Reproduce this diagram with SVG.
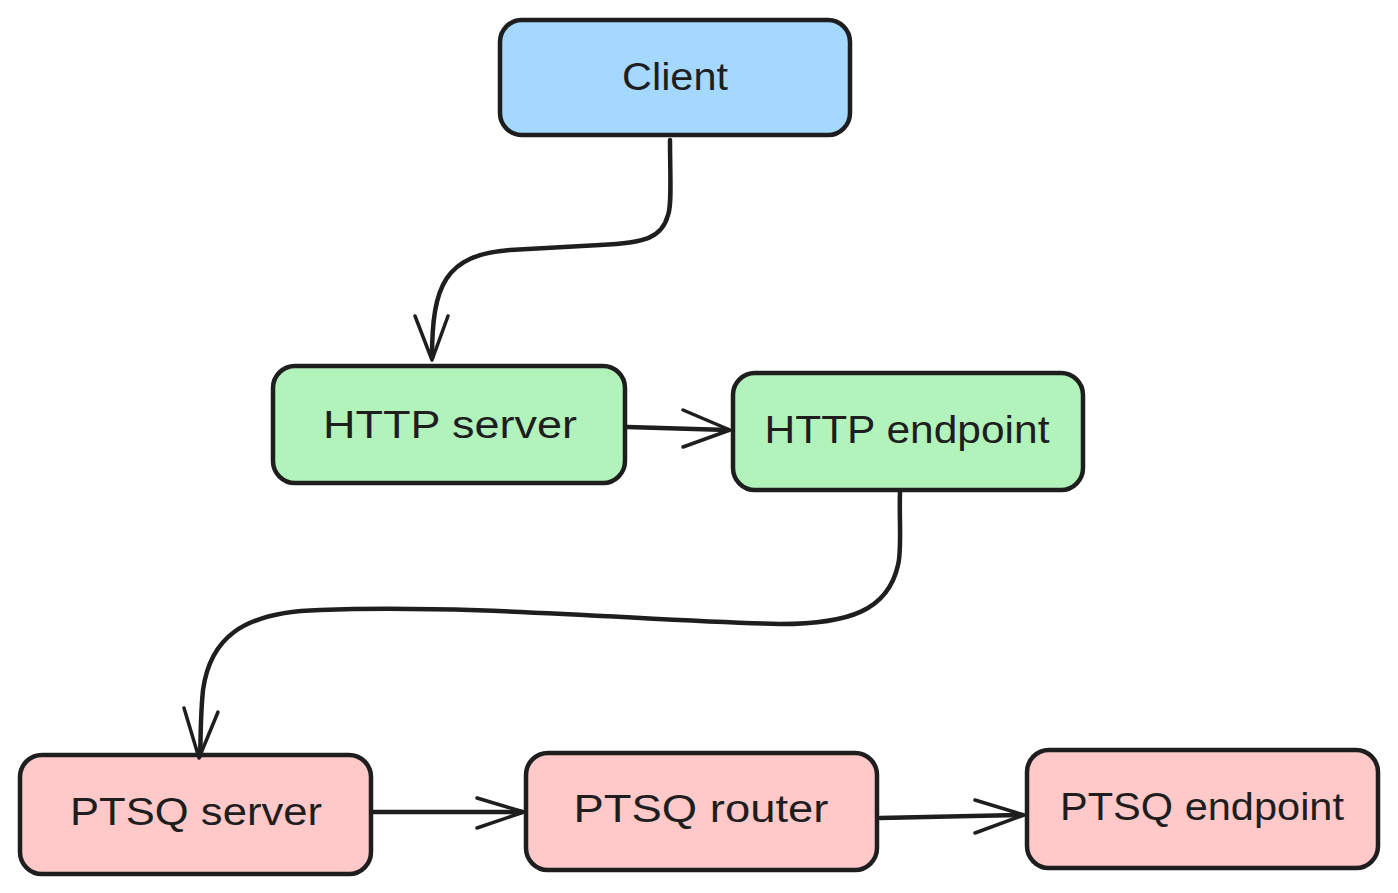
<svg xmlns="http://www.w3.org/2000/svg" width="1398" height="893" viewBox="0 0 1398 893">
<defs>
<style>
.box{stroke:#1e1e1e;stroke-width:4.5;stroke-linejoin:round}
.blue{fill:#a5d8ff}
.green{fill:#b2f2bb}
.red{fill:#ffc9c9}
.lbl{font-family:"Liberation Sans",Arial,sans-serif;font-size:38px;fill:#1e1e1e;text-anchor:middle}
.edge{fill:none;stroke:#1e1e1e;stroke-width:4.5;stroke-linecap:round;stroke-linejoin:round}
.head{fill:none;stroke:#1e1e1e;stroke-width:3.5;stroke-linecap:round;stroke-linejoin:round}
</style>
</defs>
<rect width="1398" height="893" fill="#ffffff"/>
<g id="client">
<rect class="box blue" x="500" y="20" width="350" height="115" rx="22"/>
<text class="lbl" x="675" y="90" textLength="106" lengthAdjust="spacingAndGlyphs">Client</text>
</g>
<g id="http-server">
<rect class="box green" x="273" y="366" width="352" height="117" rx="22"/>
<text class="lbl" x="450" y="438" textLength="254" lengthAdjust="spacingAndGlyphs">HTTP server</text>
</g>
<g id="http-endpoint">
<rect class="box green" x="733" y="373" width="350" height="117" rx="22"/>
<text class="lbl" x="907" y="443" textLength="285" lengthAdjust="spacingAndGlyphs">HTTP endpoint</text>
</g>
<g id="ptsq-server">
<rect class="box red" x="20" y="755" width="351" height="119" rx="22"/>
<text class="lbl" x="196" y="825" textLength="252" lengthAdjust="spacingAndGlyphs">PTSQ server</text>
</g>
<g id="ptsq-router">
<rect class="box red" x="526" y="753" width="351" height="117" rx="22"/>
<text class="lbl" x="701" y="822" textLength="255" lengthAdjust="spacingAndGlyphs">PTSQ router</text>
</g>
<g id="ptsq-endpoint">
<rect class="box red" x="1027" y="750" width="351" height="118" rx="22"/>
<text class="lbl" x="1202" y="820" textLength="284" lengthAdjust="spacingAndGlyphs">PTSQ endpoint</text>
</g>
<g id="connectors">
<path class="edge" d="M670 140 C 670 175, 672 205, 668 215 C 662 238, 645 243, 600 245 L 510 250 C 445 255, 432 285, 432 358"/>
<path class="head" d="M415 316 L 432 360 L 448 316"/>
<path class="edge" d="M627 427 L 728 430"/>
<path class="head" d="M683 410 L 730 430 L 683 447"/>
<path class="edge" d="M900 492 C 899 520, 902 550, 898 565 C 888 610, 850 624, 780 624 C 660 622, 480 604, 320 610 C 240 612, 210 640, 203 690 C 200 720, 201 740, 200 756"/>
<path class="head" d="M184 708 L 199 758 L 218 712"/>
<path class="edge" d="M373 812 L 522 812"/>
<path class="head" d="M477 798 L 524 812 L 477 828"/>
<path class="edge" d="M880 818 L 1022 815"/>
<path class="head" d="M975 800 L 1024 815 L 975 833"/>
</g>
</svg>
